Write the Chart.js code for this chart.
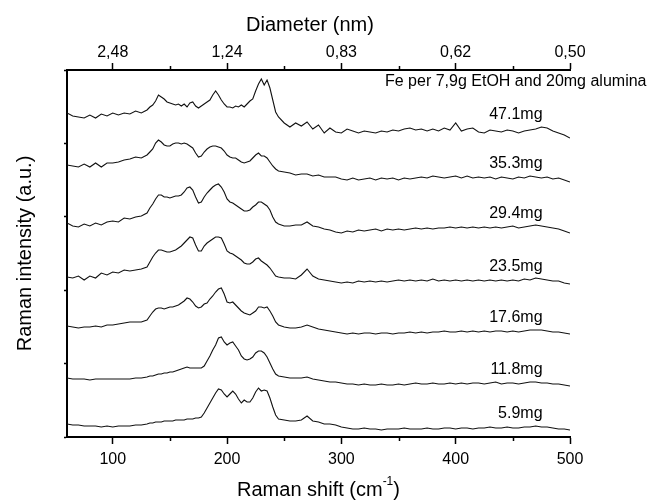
<!DOCTYPE html>
<html>
<head>
<meta charset="utf-8">
<title>Raman spectra vs Fe loading</title>
<script src="https://cdn.jsdelivr.net/npm/chart.js@4.4.1/dist/chart.umd.min.js"></script>
<style>
  html, body { margin: 0; padding: 0; background: #fff; }
</style>
</head>
<body>
<canvas id="chart" width="653" height="500"></canvas>
<script>
// Raman shift (cm-1) sample positions, finer over the RBM band
const shift = [60, 65, 70, 75, 80, 85, 90, 95, 100, 105, 110, 115, 120, 125, 130,
  132.5, 135, 137.5, 140, 142.5, 145, 147.5, 150, 152.5, 155, 157.5, 160, 162.5, 165, 167.5,
  170, 172.5, 175, 177.5, 180, 182.5, 185, 187.5, 190, 192.5, 195, 197.5, 200, 202.5, 205,
  207.5, 210, 212.5, 215, 217.5, 220, 222.5, 225, 227.5, 230, 232.5, 235, 237.5, 240, 242.5, 245,
  250, 255, 260, 265, 270, 275, 280, 285, 290, 295, 300, 305, 310, 315, 320, 325, 330, 335,
  340, 345, 350, 355, 360, 365, 370, 375, 380, 385, 390, 395, 400, 405, 410, 415, 420, 425,
  430, 435, 440, 445, 450, 455, 460, 465, 470, 475, 480, 485, 490, 495, 500];

// stacked intensities (a.u., offset per loading)
const fe47_1 = [324, 321, 320, 319, 322, 319, 323, 321, 324, 322, 324, 323, 326, 324, 327,
  330, 332, 336, 342, 340, 338, 335, 334, 333, 332, 333, 331, 333, 330, 334, 335, 331, 329, 331, 333,
  335, 337, 342, 346, 342, 337, 333, 330, 330, 329, 331, 330, 332, 330, 333, 336, 338, 346, 353, 358,
  352, 357, 349, 337, 325, 320,
  314, 310, 314, 311, 315, 308, 312, 304, 309, 305, 304, 308, 306, 304, 306, 305, 304, 306, 305, 307,
  306, 308, 309, 307, 308, 306, 308, 306, 309, 307, 314, 306, 308, 309, 305, 304, 307, 306, 305, 307,
  306, 304, 306, 307, 308, 310, 309, 306, 304, 302, 299];
const fe35_3 = [272, 271, 270, 273, 270, 274, 270, 274, 274, 275, 277, 278, 280, 279, 282,
  285, 288, 294, 297, 295, 292, 291, 291, 293, 294, 294, 293, 294, 293, 291, 289, 284, 280, 281, 285,
  288, 290, 291, 291, 290, 289, 286, 282, 280, 279, 279, 277, 275, 274, 275, 276, 279, 282, 284, 281,
  281, 279, 275, 271, 268, 266,
  265, 264, 262, 263, 263, 261, 262, 260, 260, 260, 258, 257, 259, 257, 258, 259, 257, 259, 258, 259,
  257, 259, 258, 259, 260, 259, 261, 260, 259, 260, 261, 259, 261, 259, 260, 259, 260, 258, 260, 259,
  258, 260, 259, 261, 260, 259, 260, 258, 259, 257, 255];
const fe29_4 = [214, 211, 210, 213, 211, 214, 212, 215, 216, 215, 219, 218, 220, 221, 224,
  229, 233, 238, 242, 242, 240, 240, 239, 240, 241, 241, 242, 245, 249, 250, 247, 240, 234, 235, 240,
  244, 247, 250, 252, 253, 250, 245, 238, 235, 234, 232, 230, 228, 226, 226, 227, 230, 232, 235, 235,
  233, 231, 227, 220, 215, 213,
  211, 211, 212, 212, 215, 211, 210, 208, 207, 205, 204, 206, 205, 207, 206, 207, 208, 206, 208, 207,
  208, 207, 208, 209, 208, 209, 208, 209, 209, 210, 209, 210, 209, 210, 209, 210, 209, 210, 209, 210,
  211, 209, 210, 211, 212, 211, 210, 209, 208, 206, 204];
const fe23_5 = [160, 159, 161, 157, 161, 159, 164, 162, 165, 164, 167, 166, 167, 168, 170,
  175, 180, 184, 187, 187, 186, 185, 185, 186, 187, 189, 191, 194, 197, 200, 199, 192, 186, 186, 191,
  194, 196, 198, 200, 200, 199, 193, 186, 184, 183, 181, 179, 177, 174, 173, 173, 175, 178, 179, 176,
  174, 172, 169, 165, 161, 160,
  159, 159, 158, 162, 168, 161, 158, 157, 156, 155, 154, 155, 154, 156, 155, 156, 155, 156, 155, 156,
  157, 156, 157, 156, 157, 156, 158, 156, 157, 156, 157, 156, 157, 156, 157, 156, 157, 156, 157, 156,
  157, 156, 158, 157, 159, 158, 157, 156, 156, 154, 153];
const fe17_6 = [111, 110, 109, 110, 110, 111, 110, 112, 112, 113, 114, 115, 115, 115, 117,
  121, 125, 128, 129, 129, 128, 129, 130, 130, 131, 132, 134, 136, 139, 138, 135, 131, 129, 130, 133,
  134, 138, 141, 145, 148, 149, 143, 135, 134, 135, 132, 129, 126, 124, 123, 122, 124, 126, 130, 130,
  129, 130, 126, 121, 115, 112,
  110, 109, 109, 110, 112, 110, 108, 107, 106, 105, 104, 103, 104, 103, 104, 104, 103, 104, 104, 103,
  104, 104, 105, 104, 105, 104, 105, 105, 106, 105, 105, 106, 105, 106, 105, 106, 105, 106, 106, 105,
  106, 105, 106, 107, 107, 107, 106, 105, 105, 104, 103];
const fe11_8 = [59, 58, 58, 58, 57, 58, 58, 58, 58, 58, 58, 58, 59, 59, 60,
  61, 61, 62, 63, 63, 64, 64, 65, 65, 66, 67, 68, 69, 70, 69, 69, 69, 69, 69, 71,
  76, 81, 87, 92, 99, 100, 95, 92, 94, 95, 91, 87, 81, 78, 77, 78, 80, 84, 86, 86,
  84, 80, 74, 68, 63, 61,
  60, 59, 59, 59, 60, 58, 57, 56, 55, 55, 54, 53, 53, 52, 53, 52, 52, 53, 52, 52,
  53, 52, 53, 54, 53, 53, 54, 53, 53, 54, 53, 54, 53, 54, 54, 53, 54, 55, 53, 54,
  54, 53, 54, 55, 55, 54, 54, 53, 53, 52, 51];
const fe5_9 = [13, 12, 12, 11, 11, 11, 10, 11, 10, 11, 11, 11, 12, 12, 13,
  14, 14, 15, 15, 15, 16, 16, 16, 16, 17, 17, 17, 17, 18, 18, 18, 19, 19, 20, 24,
  29, 34, 39, 44, 48, 47, 43, 40, 43, 46, 43, 38, 34, 37, 35, 35, 39, 45, 49, 46,
  47, 46, 39, 30, 22, 18,
  17, 16, 16, 17, 21, 16, 15, 13, 13, 12, 10, 9, 8, 8, 9, 8, 8, 7, 8, 8,
  8, 9, 8, 8, 8, 9, 8, 8, 9, 9, 8, 9, 9, 8, 9, 9, 10, 9, 9, 10,
  9, 9, 10, 10, 11, 10, 10, 9, 8, 8, 7];

const series = [fe47_1, fe35_3, fe29_4, fe23_5, fe17_6, fe11_8, fe5_9];
const seriesNames = ['47.1mg', '35.3mg', '29.4mg', '23.5mg', '17.6mg', '11.8mg', '5.9mg'];

const majorTicks = [100, 200, 300, 400, 500];
const minorTicks = [150, 250, 350, 450];
const diameterLabels = ['2,48', '1,24', '0,83', '0,62', '0,50'];
const intensityTicks = [0, 73.4, 146.8, 220.2, 293.6, 367];

const FONT = "'Liberation Sans', Arial, sans-serif";
Chart.defaults.font.family = FONT;
Chart.defaults.color = '#000';

const textPlugin = {
    id: 'texts',
    afterDraw(chart) {
        const ctx = chart.ctx;
        const area = chart.chartArea;
        const x = chart.scales.x;
        const y = chart.scales.y;
        ctx.save();
        ctx.strokeStyle = '#000';
        ctx.fillStyle = '#000';
        ctx.lineWidth = 1.5;

        // minor ticks on bottom and top axes
        minorTicks.forEach(v => {
            const px = Math.round(x.getPixelForValue(v)) + 0.5;
            ctx.beginPath();
            ctx.moveTo(px, area.bottom);
            ctx.lineTo(px, area.bottom + 4);
            ctx.moveTo(px, area.top);
            ctx.lineTo(px, area.top - 4);
            ctx.stroke();
        });

        // axis titles
        ctx.textBaseline = 'middle';
        ctx.textAlign = 'center';
        ctx.font = '20px ' + FONT;
        ctx.fillText('Diameter (nm)', 310, 25);

        const main = 'Raman shift (cm';
        ctx.font = '20px ' + FONT;
        const w1 = ctx.measureText(main).width;
        const w3 = ctx.measureText(')').width;
        ctx.font = '12px ' + FONT;
        const w2 = ctx.measureText('-1').width;
        let sx = (area.left + area.right) / 2 - (w1 + w2 + w3) / 2;
        ctx.textAlign = 'left';
        ctx.font = '20px ' + FONT;
        ctx.fillText(main, sx, 490);
        ctx.font = '12px ' + FONT;
        ctx.fillText('-1', sx + w1, 482);
        ctx.font = '20px ' + FONT;
        ctx.fillText(')', sx + w1 + w2, 490);

        // sample note and loading labels
        ctx.font = '16px ' + FONT;
        ctx.fillText('Fe per 7,9g EtOH and 20mg alumina', 385, 82);

        const at = shift.indexOf(480);
        ctx.textAlign = 'right';
        series.forEach((s, i) => {
            ctx.fillText(seriesNames[i], x.getPixelForValue(476), y.getPixelForValue(s[at]) - 13);
        });
        ctx.restore();
    }
};

new Chart(document.getElementById('chart'), {
    type: 'line',
    data: {
        datasets: series.map((s, i) => ({
            label: seriesNames[i],
            data: shift.map((v, j) => ({ x: v, y: s[j] })),
            borderColor: '#111',
            borderWidth: 1.1,
            pointRadius: 0,
            fill: false,
            tension: 0
        }))
    },
    options: {
        responsive: false,
        animation: false,
        layout: { padding: { left: 0, right: 83, top: 0, bottom: 0 } },
        plugins: {
            legend: { display: false },
            tooltip: { enabled: false }
        },
        scales: {
            x: {
                type: 'linear',
                position: 'bottom',
                min: 60,
                max: 500,
                afterBuildTicks: s => { s.ticks = majorTicks.map(v => ({ value: v })); },
                afterFit: s => { s.height = 63; },
                ticks: { autoSkip: false, maxRotation: 0, padding: 6, font: { size: 16 }, color: '#000' },
                grid: { drawOnChartArea: false, tickLength: 7, tickWidth: 1.5, tickColor: '#000' },
                border: { display: true, color: '#000', width: 2 }
            },
            xTop: {
                type: 'linear',
                position: 'top',
                min: 60,
                max: 500,
                afterBuildTicks: s => { s.ticks = majorTicks.map(v => ({ value: v })); },
                afterFit: s => { s.height = 70; },
                ticks: {
                    autoSkip: false, maxRotation: 0, padding: 1, font: { size: 16 }, color: '#000',
                    callback: v => diameterLabels[majorTicks.indexOf(v)]
                },
                grid: { drawOnChartArea: false, tickLength: 7, tickWidth: 1.5, tickColor: '#000' },
                border: { display: true, color: '#000', width: 2 }
            },
            y: {
                type: 'linear',
                position: 'left',
                min: 0,
                max: 367,
                afterBuildTicks: s => { s.ticks = intensityTicks.map(v => ({ value: v })); },
                afterFit: s => { s.width = 67; },
                ticks: { display: false },
                title: {
                    display: true,
                    text: 'Raman intensity (a.u.)',
                    font: { size: 20 },
                    color: '#000',
                    padding: { top: 13, bottom: 0 }
                },
                grid: { drawOnChartArea: false, tickLength: 3, tickWidth: 1.5, tickColor: '#000' },
                border: { display: true, color: '#000', width: 2 }
            }
        }
    },
    plugins: [textPlugin]
});
</script>
</body>
</html>
